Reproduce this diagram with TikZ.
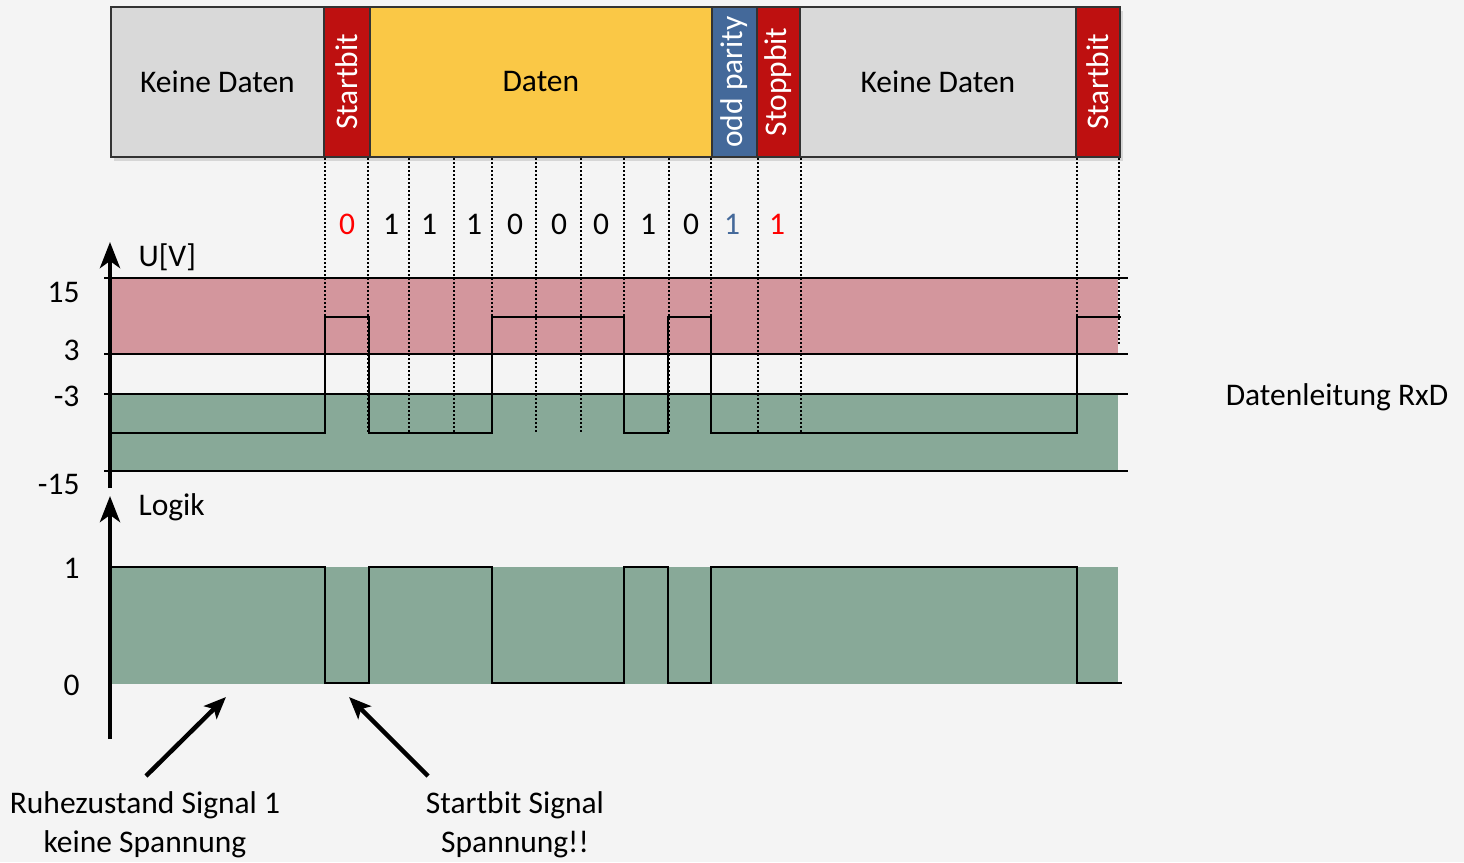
\documentclass[tikz,border=0pt]{standalone}
\usepackage{fontspec}
\setmainfont{Carlito}
\usetikzlibrary{arrows.meta,shadows}
\definecolor{bg}{HTML}{F4F4F4}
\definecolor{boxgray}{HTML}{D9D9D9}
\definecolor{boxred}{HTML}{BE1010}
\definecolor{boxyellow}{HTML}{FAC846}
\definecolor{boxblue}{HTML}{44699A}
\definecolor{bandred}{HTML}{D3969D}
\definecolor{bandgreen}{HTML}{88A998}
\definecolor{bitred}{HTML}{FF0000}
\definecolor{bitblue}{HTML}{44699A}
\tikzset{
  x=1pt,y=-1pt,
  every node/.style={font=\fontsize{31.5}{39}\selectfont},
  box/.style={draw=black!80,line width=1.8pt,anchor=north west,minimum height=150pt,inner sep=0pt,
    drop shadow={shadow xshift=3pt,shadow yshift=-4pt,opacity=0.25}},
  vtext/.style={rotate=90,text=white},
  bitsep/.style={line width=2.4pt,dash pattern=on 2.2pt off 1.8pt},
  bandline/.style={line width=1.8pt},
  signal/.style={line width=2.8pt,line join=miter},
  axis/.style={line width=4.5pt,-{Stealth[length=26pt,width=20pt,inset=7pt]}},
  pointer/.style={line width=4.5pt,-{Stealth[length=22pt,width=18pt,inset=5pt]}},
  ticklab/.style={anchor=east},
}
\begin{document}
\begin{tikzpicture}
\useasboundingbox (0,0) rectangle (1464,862);
\fill[bg] (0,0) rectangle (1464,862);

% top boxes
\node[box,fill=boxgray,minimum width=213pt] (kd1) at (110,6) {};
\node (kd1t) at (kd1.center) {Keine Daten};
\node[box,fill=boxred,minimum width=46pt] (sb1) at (323,6) {};
\node[vtext] (sb1t) at (sb1.center) {Startbit};
\node[box,fill=boxyellow,minimum width=342pt] (dat) at (369,6) {};
\node (datt) at (dat.center) {Daten};
\node[box,fill=boxblue,minimum width=45pt] (par) at (711,6) {};
\node[vtext] (part) at (par.center) {odd parity};
\node[box,fill=boxred,minimum width=43pt] (stp) at (756,6) {};
\node[vtext] (stpt) at (stp.center) {Stoppbit};
\node[box,fill=boxgray,minimum width=276pt] (kd2) at (799,6) {};
\node (kd2t) at (kd2.center) {Keine Daten};
\node[box,fill=boxred,minimum width=44pt] (sb2) at (1075,6) {};
\node[vtext] (sb2t) at (sb2.center) {Startbit};

% bands
\fill[bandred] (110,278) rectangle (1118,354);
\fill[bandgreen] (110,394) rectangle (1118,471);
\fill[bandgreen] (110,567) rectangle (1118,684);

% dotted bit separators
\foreach \xx in {325,368,409,454,492,536,581,624,669,711,758,801,1077}
  \draw[bitsep] (\xx,158) -- (\xx,433);
\draw[bitsep] (1119,158) -- (1119,345);

% band lines
\foreach \yy in {278,354,394,471}
  \draw[bandline] (110,\yy) -- (1128,\yy);

% bit labels
\node[text=bitred] (b0) at (347,224) {0};
\node (b1) at (391,224) {1};
\node (b2) at (429,224) {1};
\node (b3) at (474,224) {1};
\node (b4) at (515,224) {0};
\node (b5) at (559,224) {0};
\node (b6) at (601,224) {0};
\node (b7) at (648,224) {1};
\node (b8) at (691,224) {0};
\node[text=bitblue] (b9) at (732,224) {1};
\node[text=bitred] (b10) at (777,224) {1};

% voltage signal
\draw[signal] (110,433) -- (325,433) -- (325,317) -- (369,317) -- (369,433) -- (492,433)
  -- (492,317) -- (624,317) -- (624,433) -- (668,433) -- (668,317) -- (711,317)
  -- (711,433) -- (1077,433) -- (1077,317) -- (1121,317);

% logic signal
\draw[signal] (110,567) -- (325,567) -- (325,683) -- (369,683) -- (369,567) -- (492,567)
  -- (492,683) -- (624,683) -- (624,567) -- (668,567) -- (668,683) -- (711,683)
  -- (711,567) -- (1077,567) -- (1077,683) -- (1122,683);

% axes
\coordinate (ua0) at (110,488);
\coordinate (ua1) at (110,242);
\draw[axis] (ua0) -- (ua1);
\node[anchor=west] (ulab) at (135,257) {U[V]};
\node[ticklab] (t15) at (83,292) {15};
\node[ticklab] (t3) at (83,350) {3};
\node[ticklab] (tm3) at (83,396) {-3};
\node[ticklab] (tm15) at (83,484) {-15};
\foreach \yy in {278,354,394,471}
  \draw[line width=1.5pt] (104,\yy) -- (110,\yy);

\coordinate (la0) at (110,739);
\coordinate (la1) at (110,496);
\draw[axis] (la0) -- (la1);
\node[anchor=west] (llab) at (135,507) {Logik};
\node[ticklab] (l1) at (83,568) {1};
\node[ticklab] (l0) at (83,685) {0};

% side label
\node (rxd) at (1337,397) {Datenleitung RxD};

% annotations
\node[align=center] (ruhe) at (145,825) {Ruhezustand Signal 1\\keine Spannung};
\node[align=center] (start) at (515,825) {Startbit Signal\\Spannung!!};
\coordinate (ruheFrom) at (146,776);
\coordinate (ruheTo) at (226,697);
\coordinate (startFrom) at (428,776);
\coordinate (startTo) at (349,697);
\draw[pointer] (ruheFrom) -- (ruheTo);
\draw[pointer] (startFrom) -- (startTo);
\end{tikzpicture}
\end{document}
